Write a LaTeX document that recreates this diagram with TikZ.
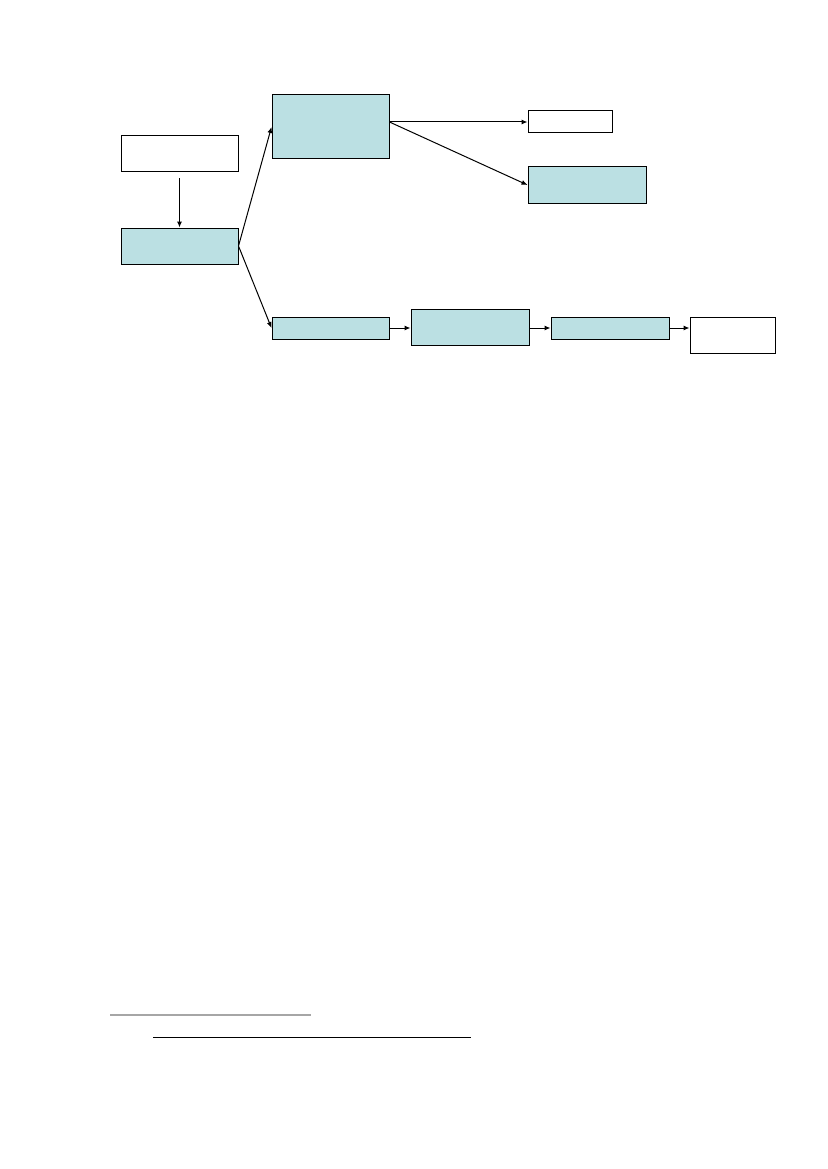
\documentclass[tikz,border=0pt]{standalone}
\usepackage{tikz}
\usetikzlibrary{arrows.meta}
\definecolor{boxblue}{RGB}{187,224,227}
\begin{document}
\begin{tikzpicture}
        [x=1pt,y=-1pt,line width=1pt,>={Latex[length=6pt,width=5pt]},
         every node/.style={draw,rectangle,inner sep=0pt,minimum width=117pt},
         bluebox/.style={fill=boxblue}]
        \useasboundingbox (0,0) rectangle (827,1169);
        \node[minimum height=36pt] (A) at (179.5,154) {};
        \node[bluebox,minimum height=36pt] (B) at (179.5,246) {};
        \node[bluebox,minimum height=64pt] (C) at (330.5,127) {};
        \node[bluebox,minimum height=22pt] (D) at (330.5,328) {};
        \node[minimum width=84pt,minimum height=22pt] (E) at (570,122) {};
        \node[bluebox,minimum width=118pt,minimum height=36pt] (F) at (587,185) {};
        \node[bluebox,minimum width=118pt,minimum height=36pt] (G) at (470,327) {};
        \node[bluebox,minimum width=118pt,minimum height=22pt] (H) at (610,328) {};
        \node[minimum width=85pt,minimum height=36pt] (I) at (732.5,335) {};

        % down from the white box
        \draw[->,shorten <=6pt] (A) -- (B);
        % the two branches
        \draw[->] (B.east) -- (C.west);
        \draw[->] (B.east) -- (D.west);
        % upper branch
        \draw[->] (C.east |- E.west) -- (E.west);
        \draw[->] (C.east |- E.west) -- (F.west);
        % lower chain
        \draw[->] (D.east) -- (D.east -| G.west);
        \draw[->] (H.west -| G.east) -- (H.west);
        \draw[->] (H.east) -- (H.east -| I.west);

        % rules at the foot of the page
        \draw[gray!70,line width=2pt] (110,1015) -- (311,1015);
        \draw (153,1037) -- (471,1037);
\end{tikzpicture}
\end{document}
